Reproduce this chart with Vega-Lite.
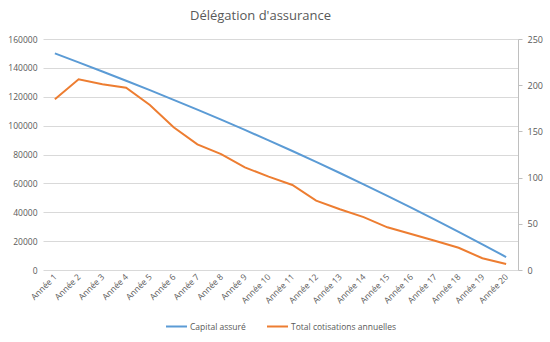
{
  "$schema": "https://vega.github.io/schema/vega-lite/v6.json",
  "width": 475,
  "height": 231,
  "autosize": "none",
  "padding": {"left": 43, "top": 39, "right": 32, "bottom": 72},
  "background": "white",
  "title": {
    "text": "Délégation d'assurance",
    "font": "Open Sans",
    "fontSize": 13,
    "fontWeight": "normal",
    "color": "#595959",
    "anchor": "middle",
    "dx": -20,
    "offset": 12
  },
  "config": {
    "view": {"stroke": null},
    "font": "Open Sans"
  },
  "data": {
    "values": [
      {"annee": "Année 1", "capital": 150000, "cotisations": 184.7},
      {"annee": "Année 2", "capital": 143826, "cotisations": 206.4},
      {"annee": "Année 3", "capital": 137529, "cotisations": 201.0},
      {"annee": "Année 4", "capital": 131106, "cotisations": 197.3},
      {"annee": "Année 5", "capital": 124555, "cotisations": 178.6},
      {"annee": "Année 6", "capital": 117872, "cotisations": 154.4},
      {"annee": "Année 7", "capital": 111056, "cotisations": 136.0},
      {"annee": "Année 8", "capital": 104104, "cotisations": 125.5},
      {"annee": "Année 9", "capital": 97013, "cotisations": 111.1},
      {"annee": "Année 10", "capital": 89780, "cotisations": 101.0},
      {"annee": "Année 11", "capital": 82402, "cotisations": 92.0},
      {"annee": "Année 12", "capital": 74877, "cotisations": 75.0},
      {"annee": "Année 13", "capital": 67201, "cotisations": 65.7},
      {"annee": "Année 14", "capital": 59372, "cotisations": 57.2},
      {"annee": "Année 15", "capital": 51386, "cotisations": 46.2},
      {"annee": "Année 16", "capital": 43240, "cotisations": 39.0},
      {"annee": "Année 17", "capital": 34931, "cotisations": 31.7},
      {"annee": "Année 18", "capital": 26456, "cotisations": 24.1},
      {"annee": "Année 19", "capital": 17812, "cotisations": 12.7},
      {"annee": "Année 20", "capital": 8995, "cotisations": 6.5}
    ]
  },
  "encoding": {
    "x": {
      "field": "annee",
      "type": "ordinal",
      "sort": null,
      "scale": {"type": "point", "padding": 0.5},
      "axis": {
        "title": null,
        "labelAngle": -45,
        "labelAlign": "right",
        "labelBaseline": "middle",
        "labelFontSize": 8.5,
        "labelColor": "#595959",
        "labelPadding": 5,
        "domain": false,
        "ticks": false,
        "grid": false
      }
    }
  },
  "layer": [
    {
      "mark": {"type": "line", "strokeWidth": 2, "interpolate": "linear"},
      "encoding": {
        "y": {
          "field": "capital",
          "type": "quantitative",
          "scale": {"domain": [0, 160000], "nice": false},
          "axis": {
            "title": null,
            "orient": "left",
            "values": [0, 20000, 40000, 60000, 80000, 100000, 120000, 140000, 160000],
            "format": "d",
            "labelFontSize": 8.5,
            "labelColor": "#595959",
            "labelPadding": 6,
            "domain": false,
            "ticks": false,
            "grid": true,
            "gridColor": "#d9d9d9",
            "gridWidth": 1
          }
        },
        "color": {
          "datum": "Capital assuré",
          "type": "nominal",
          "scale": {
            "domain": ["Capital assuré", "Total cotisations annuelles"],
            "range": ["#5b9bd5", "#ed7d31"]
          },
          "legend": {
            "title": null,
            "orient": "none",
            "direction": "horizontal",
            "legendX": 122,
            "legendY": 276,
            "symbolType": "stroke",
            "symbolSize": 441,
            "symbolStrokeWidth": 2,
            "labelFontSize": 8.5,
            "labelColor": "#595959",
            "labelOffset": 2,
            "columnPadding": 17
          }
        }
      }
    },
    {
      "mark": {"type": "line", "strokeWidth": 2, "interpolate": "linear"},
      "encoding": {
        "y": {
          "field": "cotisations",
          "type": "quantitative",
          "scale": {"domain": [0, 250], "nice": false},
          "axis": {
            "title": null,
            "orient": "right",
            "values": [0, 50, 100, 150, 200, 250],
            "labelFontSize": 9,
            "labelColor": "#595959",
            "labelPadding": 5,
            "domain": true,
            "domainColor": "#bfbfbf",
            "ticks": true,
            "tickColor": "#bfbfbf",
            "tickSize": 4,
            "grid": false
          }
        },
        "color": {"datum": "Total cotisations annuelles", "type": "nominal"}
      }
    }
  ],
  "resolve": {"scale": {"y": "independent"}}
}
